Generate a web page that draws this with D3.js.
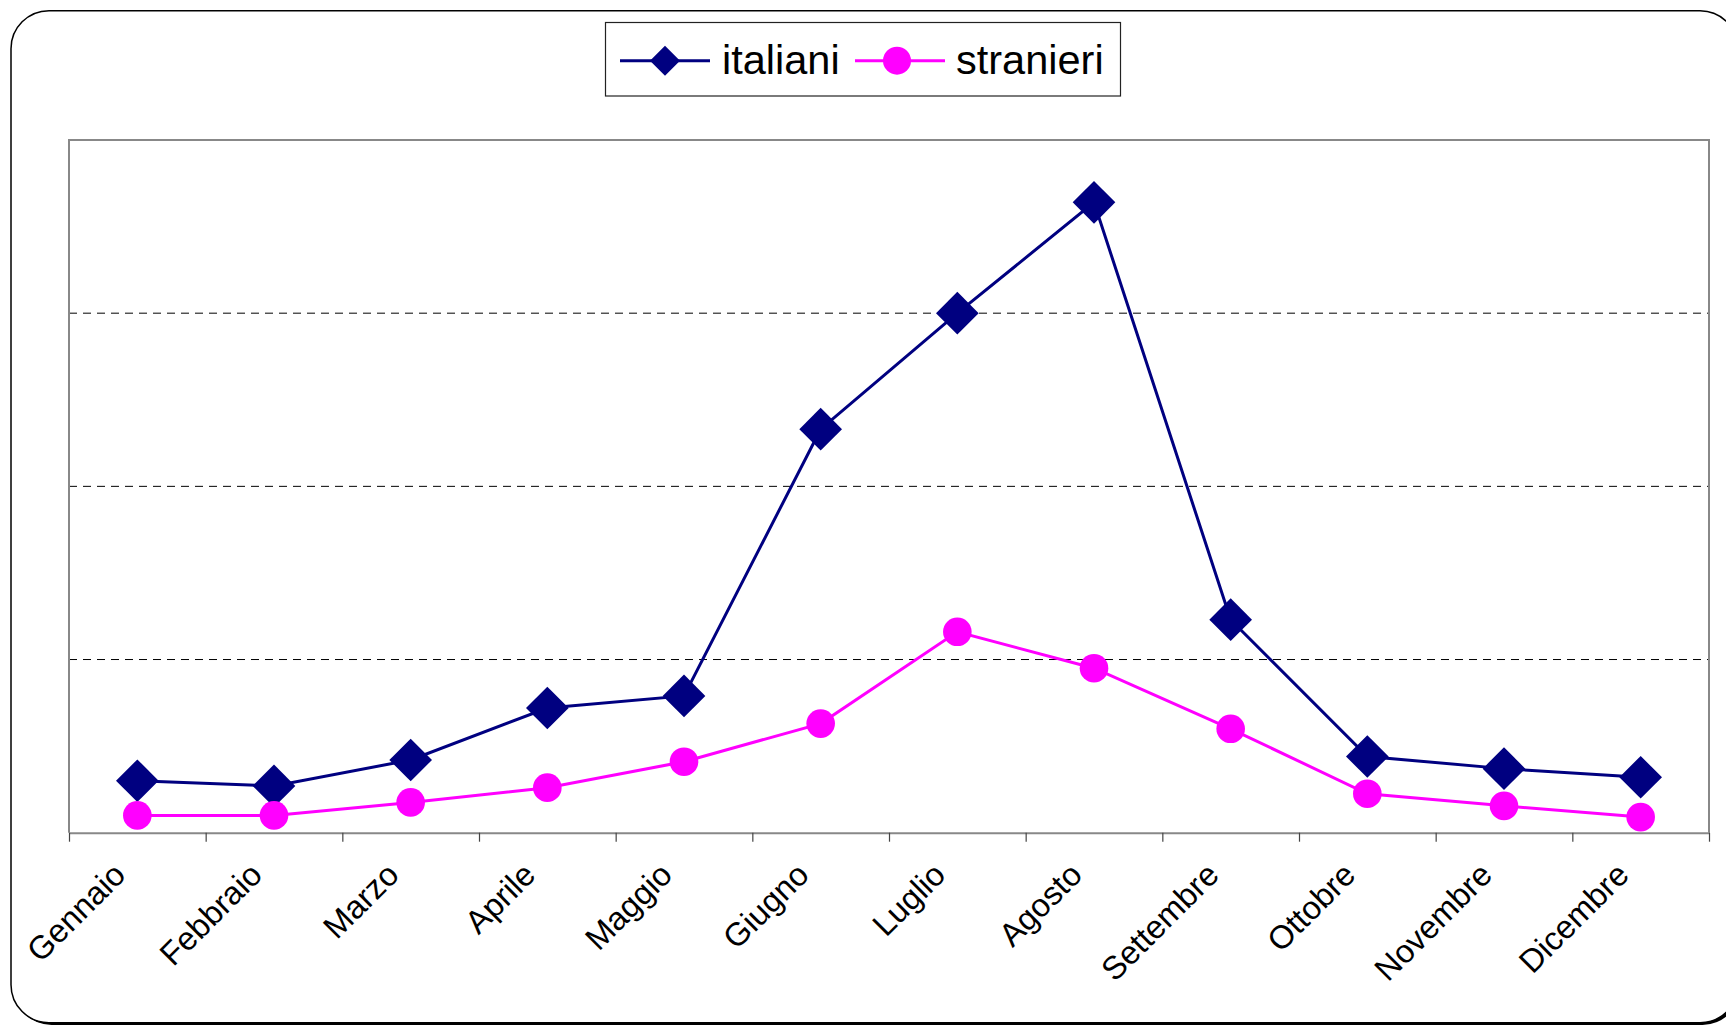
<!DOCTYPE html>
<html>
<head>
<meta charset="utf-8">
<script src="https://cdnjs.cloudflare.com/ajax/libs/d3/7.8.5/d3.min.js"></script>
<style>
  body { margin: 0; background: #ffffff; }
  text { font-family: "Liberation Sans", Arial, sans-serif; }
</style>
</head>
<body>
<div id="chart"></div>
<script>
// data (units: 0-400, grid every 100)
var months = ["Gennaio", "Febbraio", "Marzo", "Aprile", "Maggio", "Giugno",
              "Luglio", "Agosto", "Settembre", "Ottobre", "Novembre", "Dicembre"];
var italiani = [30, 27, 42, 72, 79, 233, 300, 364, 123, 44, 37, 32];
var stranieri = [10, 10, 17.5, 26, 41, 63, 116, 95, 60, 22.5, 15.5, 9];
var seriesNames = ["italiani", "stranieri"];
var yTicks = [100, 200, 300];
var yMax = 400;

//svg parameters
var svgWidth = 1726;
var svgHeight = 1025;

var margins = {
    top: 140,
    left: 69,
    right: 17,
    bottom: 192.3
};

var width = svgWidth - margins.left - margins.right;
var height = svgHeight - margins.top - margins.bottom;

var svg = d3.select("#chart")
    .append("svg")
    .attr("width", svgWidth)
    .attr("height", svgHeight);

//outer rounded frame with a little shadow
svg.append("rect")
    .attr("x", 13.5)
    .attr("y", 13)
    .attr("width", 1727)
    .attr("height", 1012)
    .attr("rx", 38)
    .attr("fill", "#000");
svg.append("rect")
    .attr("x", 11)
    .attr("y", 10.7)
    .attr("width", 1727)
    .attr("height", 1012)
    .attr("rx", 38)
    .attr("fill", "#fff")
    .attr("stroke", "#000")
    .attr("stroke-width", 1.5);

var group = svg.append("g")
    .attr("transform", `translate(${margins.left}, ${margins.top})`);

//scales
var xScale = d3.scaleBand()
    .domain(months)
    .range([0, width]);
var xEdge = d3.scaleLinear()
    .domain([0, months.length])
    .range([0, width]);
var yScale = d3.scaleLinear()
    .domain([0, yMax])
    .range([height, 0]);

var xPos = function(d, i) { return xScale(months[i]) + xScale.bandwidth() / 2; };

//dashed gridlines
group.append("g")
    .selectAll("line")
    .data(yTicks)
    .enter()
    .append("line")
    .attr("x1", 0)
    .attr("x2", width)
    .attr("y1", d => yScale(d))
    .attr("y2", d => yScale(d))
    .attr("stroke", "#000")
    .attr("stroke-width", 1)
    .attr("stroke-dasharray", "8,6");

//plot frame (left, top, right)
group.append("path")
    .attr("d", `M0,${height}V0H${width}V${height}`)
    .attr("fill", "none")
    .attr("stroke", "#888")
    .attr("stroke-width", 2);

//x axis ticks at the category edges
var tickAxis = group.append("g")
    .attr("transform", `translate(0, ${height})`)
    .call(d3.axisBottom(xEdge)
        .tickValues(d3.range(months.length + 1))
        .tickFormat("")
        .tickSize(9)
        .tickSizeOuter(0));
tickAxis.select(".domain")
    .attr("stroke", "#888")
    .attr("stroke-width", 2);
tickAxis.selectAll(".tick line")
    .attr("stroke", "#444")
    .attr("stroke-width", 1.2);

//month labels, rotated
var labelAxis = group.append("g")
    .attr("transform", `translate(0, ${height})`)
    .call(d3.axisBottom(xScale).tickSize(0));
labelAxis.select(".domain").remove();
labelAxis.selectAll("text")
    .attr("x", 0)
    .attr("y", 0)
    .attr("dy", "0.35em")
    .attr("transform", "translate(-18, 36) rotate(-45)")
    .style("text-anchor", "end")
    .style("font-size", "32.5px")
    .style("font-family", "'Liberation Sans', Arial, sans-serif")
    .attr("fill", "#000");

//lines
var line = d3.line()
    .x(xPos)
    .y(d => yScale(d));

group.append("path")
    .datum(italiani)
    .attr("d", line)
    .attr("fill", "none")
    .attr("stroke", "#000080")
    .attr("stroke-width", 3);

group.append("path")
    .datum(stranieri)
    .attr("d", line)
    .attr("fill", "none")
    .attr("stroke", "#ff00ff")
    .attr("stroke-width", 3);

//markers
var diamond = d3.symbol().type(d3.symbolSquare).size(910);

group.selectAll(".italianiMark")
    .data(italiani)
    .enter()
    .append("path")
    .classed("italianiMark", true)
    .attr("d", diamond)
    .attr("transform", (d, i) => `translate(${xPos(d, i)}, ${yScale(d)}) rotate(45)`)
    .attr("fill", "#000080");

group.selectAll(".stranieriMark")
    .data(stranieri)
    .enter()
    .append("circle")
    .classed("stranieriMark", true)
    .attr("cx", xPos)
    .attr("cy", d => yScale(d))
    .attr("r", 14.3)
    .attr("fill", "#ff00ff");

//legend
var legend = svg.append("g");
legend.append("rect")
    .attr("x", 605.5)
    .attr("y", 22.5)
    .attr("width", 515)
    .attr("height", 73.5)
    .attr("fill", "#fff")
    .attr("stroke", "#222")
    .attr("stroke-width", 1.2);

var legendY = 60.7;
//italiani entry
legend.append("line")
    .attr("x1", 620).attr("x2", 710)
    .attr("y1", legendY).attr("y2", legendY)
    .attr("stroke", "#000080")
    .attr("stroke-width", 3);
legend.append("path")
    .attr("d", d3.symbol().type(d3.symbolSquare).size(450))
    .attr("transform", `translate(665, ${legendY}) rotate(45)`)
    .attr("fill", "#000080");
legend.append("text")
    .attr("x", 722)
    .attr("y", 73.5)
    .style("font-size", "41.5px")
    .attr("fill", "#000")
    .text(seriesNames[0]);

//stranieri entry
legend.append("line")
    .attr("x1", 855).attr("x2", 945)
    .attr("y1", legendY).attr("y2", legendY)
    .attr("stroke", "#ff00ff")
    .attr("stroke-width", 3);
legend.append("circle")
    .attr("cx", 897)
    .attr("cy", legendY)
    .attr("r", 14)
    .attr("fill", "#ff00ff");
legend.append("text")
    .attr("x", 956)
    .attr("y", 73.5)
    .style("font-size", "41.5px")
    .attr("fill", "#000")
    .text(seriesNames[1]);
</script>
</body>
</html>
